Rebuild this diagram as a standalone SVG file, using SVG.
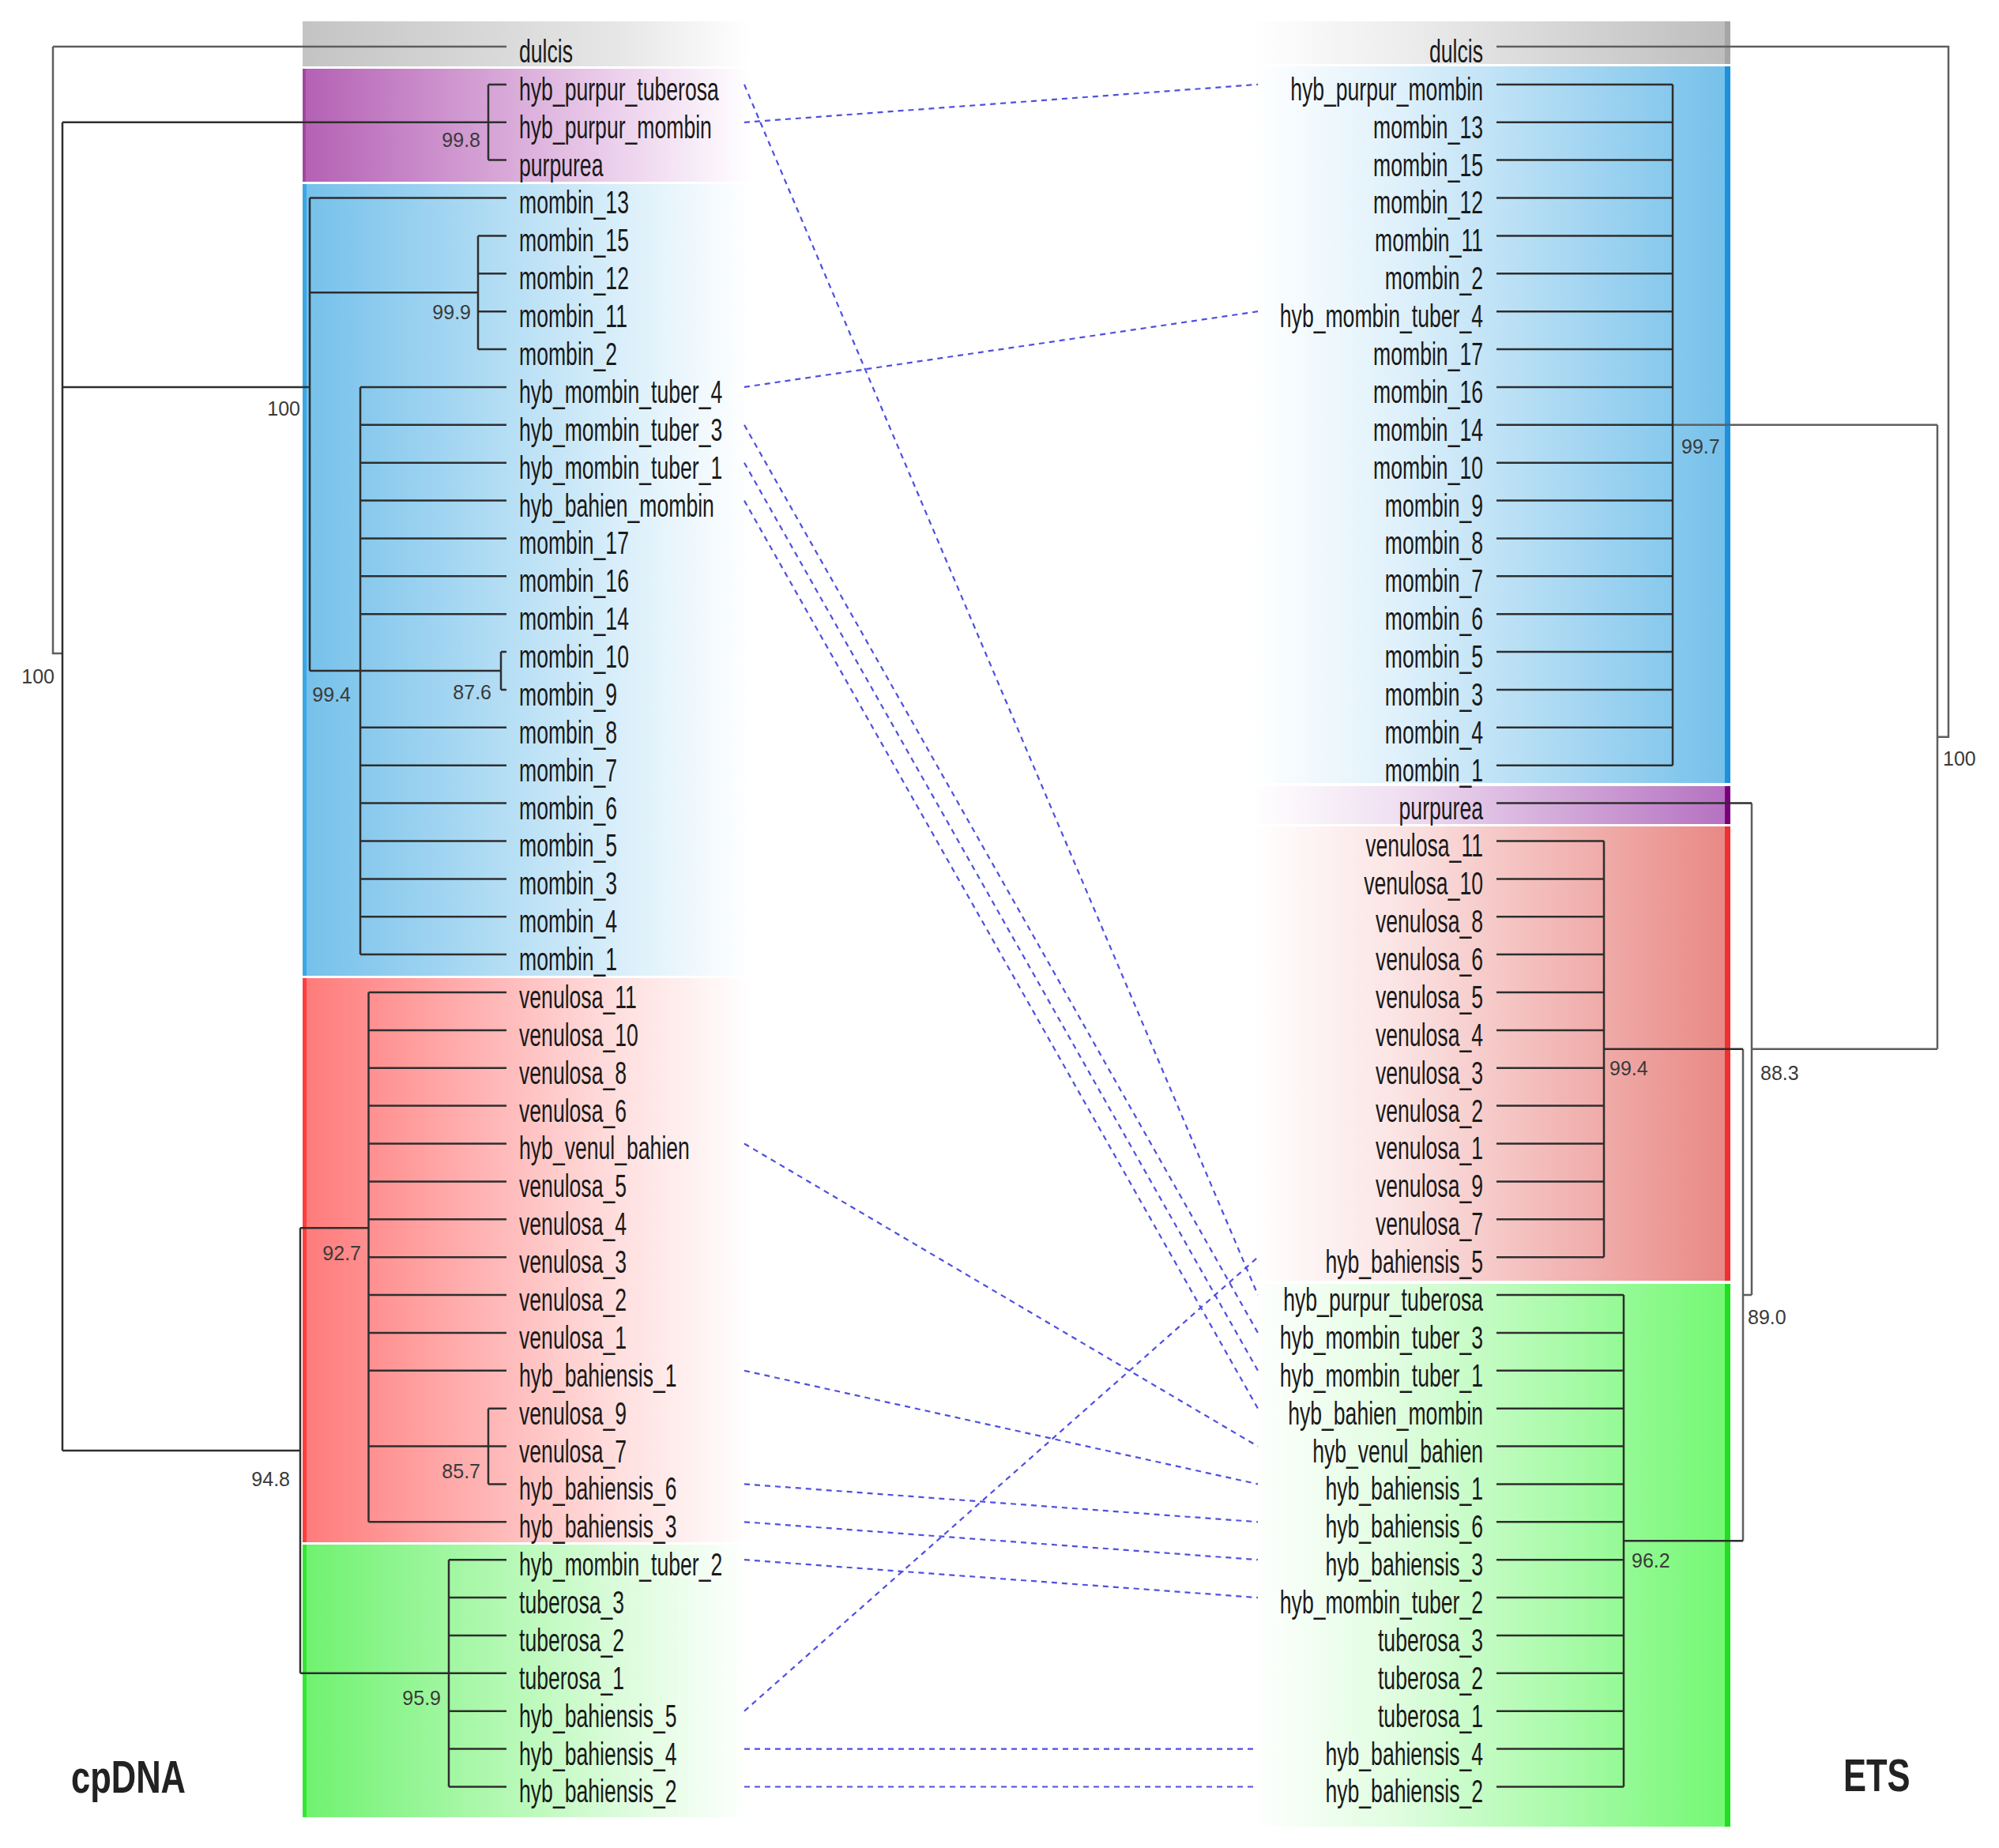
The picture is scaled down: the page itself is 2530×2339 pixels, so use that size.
<svg xmlns="http://www.w3.org/2000/svg" width="2530" height="2339" viewBox="0 0 2530 2339">
<style>
.tx{font-family:"Liberation Sans",Arial,sans-serif;font-size:40px;fill:#1a1a1a}
.rt{text-anchor:end}
.bs{font-family:"Liberation Sans",Arial,sans-serif;font-size:25px;fill:#3a3a3a}
.bse{text-anchor:end}
.ttl{font-family:"Liberation Sans",Arial,sans-serif;font-size:58px;font-weight:bold;fill:#222}
.tree{fill:none;stroke:#2e2e2e;stroke-width:2.5}
.outer{fill:none;stroke:#5e5e5e;stroke-width:2.5}
.dash{fill:none;stroke:#4f4fe2;stroke-width:2.2;stroke-dasharray:7 6}
</style>
<defs>
<linearGradient id="lg-gray" x1="0" x2="1" y1="0" y2="0"><stop offset="0" stop-color="#c4c4c4"/><stop offset="0.7" stop-color="#e6e6e6"/><stop offset="1" stop-color="#ffffff"/></linearGradient>
<linearGradient id="lg-purple" x1="0" x2="1" y1="0" y2="0"><stop offset="0" stop-color="#b460b4"/><stop offset="0.7" stop-color="#ecd0ec"/><stop offset="1" stop-color="#ffffff"/></linearGradient>
<linearGradient id="lg-blue" x1="0" x2="1" y1="0" y2="0"><stop offset="0" stop-color="#74c0ea"/><stop offset="0.7" stop-color="#d8eefa"/><stop offset="1" stop-color="#ffffff"/></linearGradient>
<linearGradient id="lg-red" x1="0" x2="1" y1="0" y2="0"><stop offset="0" stop-color="#ff7a7a"/><stop offset="0.7" stop-color="#ffdede"/><stop offset="1" stop-color="#ffffff"/></linearGradient>
<linearGradient id="lg-green" x1="0" x2="1" y1="0" y2="0"><stop offset="0" stop-color="#6ef26e"/><stop offset="0.7" stop-color="#dafcda"/><stop offset="1" stop-color="#ffffff"/></linearGradient>
<linearGradient id="rg-gray" x1="0" x2="1" y1="0" y2="0"><stop offset="0" stop-color="#ffffff"/><stop offset="0.3" stop-color="#eeeeee"/><stop offset="1" stop-color="#bdbdbd"/></linearGradient>
<linearGradient id="rg-purple" x1="0" x2="1" y1="0" y2="0"><stop offset="0" stop-color="#ffffff"/><stop offset="0.3" stop-color="#f0e0f2"/><stop offset="1" stop-color="#b470c0"/></linearGradient>
<linearGradient id="rg-blue" x1="0" x2="1" y1="0" y2="0"><stop offset="0" stop-color="#ffffff"/><stop offset="0.3" stop-color="#e0f1fb"/><stop offset="1" stop-color="#74c0ea"/></linearGradient>
<linearGradient id="rg-red" x1="0" x2="1" y1="0" y2="0"><stop offset="0" stop-color="#ffffff"/><stop offset="0.3" stop-color="#fbe4e4"/><stop offset="1" stop-color="#e88884"/></linearGradient>
<linearGradient id="rg-green" x1="0" x2="1" y1="0" y2="0"><stop offset="0" stop-color="#ffffff"/><stop offset="0.3" stop-color="#e0fde0"/><stop offset="1" stop-color="#72f872"/></linearGradient>
</defs>
<rect width="2530" height="2339" fill="#ffffff"/>

<g id="bands-cpDNA">
<rect x="383" y="27" width="567" height="57" fill="url(#lg-gray)"/>
<rect x="383" y="87" width="567" height="143" fill="url(#lg-purple)"/>
<rect x="383" y="87" width="4" height="143" fill="#a048a0"/>
<rect x="383" y="233" width="567" height="1002" fill="url(#lg-blue)"/>
<rect x="383" y="233" width="5" height="1002" fill="#3aa6e6"/>
<rect x="383" y="1238" width="567" height="714" fill="url(#lg-red)"/>
<rect x="383" y="1238" width="5" height="714" fill="#ff3d3d"/>
<rect x="383" y="1955" width="567" height="345" fill="url(#lg-green)"/>
<rect x="383" y="1955" width="5" height="345" fill="#33e633"/>
</g>

<g id="bands-ETS">
<rect x="1585" y="27" width="605" height="54" fill="url(#rg-gray)"/>
<rect x="2183" y="27" width="7" height="54" fill="#a6a6a6"/>
<rect x="1585" y="84" width="605" height="907" fill="url(#rg-blue)"/>
<rect x="2183" y="84" width="7" height="907" fill="#1e90dc"/>
<rect x="1585" y="995" width="605" height="48" fill="url(#rg-purple)"/>
<rect x="2183" y="995" width="7" height="48" fill="#7a007a"/>
<rect x="1585" y="1046" width="605" height="575" fill="url(#rg-red)"/>
<rect x="2183" y="1046" width="7" height="575" fill="#f03030"/>
<rect x="1585" y="1625" width="605" height="687" fill="url(#rg-green)"/>
<rect x="2183" y="1625" width="7" height="687" fill="#22dd22"/>
</g>

<g id="tree-cpDNA">
<path class="outer" d="M67 59V826.9H79M67 59H641"/>
<path class="tree" d="M79 154.8V1836.1
M79 154.8H618M618 106.9V202.6M618 106.9H641M618 154.8H641M618 202.6H641
M79 489.9H392M392 250.5V849M392 250.5H641
M392 370.2H605M605 298.4V442M605 298.4H641M605 346.3H641M605 394.2H641M605 442H641
M392 849H456M456 489.9V1208.1
M456 489.9H641M456 537.8H641M456 585.7H641M456 633.6H641M456 681.4H641M456 729.3H641M456 777.2H641
M456 920.8H641M456 968.7H641M456 1016.6H641M456 1064.5H641M456 1112.4H641M456 1160.2H641M456 1208.1H641
M456 849H634M634 825.1V873M634 825.1H641M634 873H641
M79 1836.1H380M380 1554.3V2117.8M380 1554.3H466.5M466.5 1256V1926.3
M466.5 1256H641M466.5 1303.9H641M466.5 1351.8H641M466.5 1399.6H641M466.5 1447.5H641M466.5 1495.4H641
M466.5 1543.3H641M466.5 1591.2H641M466.5 1639H641M466.5 1686.9H641M466.5 1734.8H641M466.5 1926.3H641
M466.5 1830.6H618M618 1782.7V1878.4M618 1782.7H641M618 1830.6H641M618 1878.4H641
M380 2117.8H568M568 1974.2V2261.5
M568 1974.2H641M568 2022.1H641M568 2070H641M568 2117.8H641M568 2165.7H641M568 2213.6H641M568 2261.5H641"/>
</g>

<g id="tree-ETS">
<path class="outer" d="M1894 59H2466V932.8H2452M2452 537.8V1327.8M2117 537.8H2452M2217 1327.8H2452M2217 1016.6V1639M2206 1639H2217M2206 1327.8V1950.3"/>
<path class="tree" d="M2117 106.9V968.7
M1894 106.9H2117M1894 154.8H2117M1894 202.6H2117M1894 250.5H2117M1894 298.4H2117M1894 346.3H2117M1894 394.2H2117
M1894 442H2117M1894 489.9H2117M1894 537.8H2117M1894 585.7H2117M1894 633.6H2117M1894 681.4H2117M1894 729.3H2117
M1894 777.2H2117M1894 825.1H2117M1894 873H2117M1894 920.8H2117M1894 968.7H2117
M1894 1016.6H2217
M2030 1327.8H2206M2030 1064.5V1591.2
M1894 1064.5H2030M1894 1112.4H2030M1894 1160.2H2030M1894 1208.1H2030M1894 1256H2030M1894 1303.9H2030
M1894 1351.8H2030M1894 1399.6H2030M1894 1447.5H2030M1894 1495.4H2030M1894 1543.3H2030M1894 1591.2H2030
M2055 1950.3H2206M2055 1639V2261.5
M1894 1639H2055M1894 1686.9H2055M1894 1734.8H2055M1894 1782.7H2055M1894 1830.6H2055M1894 1878.4H2055M1894 1926.3H2055
M1894 1974.2H2055M1894 2022.1H2055M1894 2070H2055M1894 2117.8H2055M1894 2165.7H2055M1894 2213.6H2055M1894 2261.5H2055"/>
</g>

<g id="connectors">
<line class="dash" x1="942" y1="106.9" x2="1592" y2="1639"/>
<line class="dash" x1="942" y1="154.8" x2="1592" y2="106.9"/>
<line class="dash" x1="942" y1="489.9" x2="1592" y2="394.2"/>
<line class="dash" x1="942" y1="537.8" x2="1592" y2="1686.9"/>
<line class="dash" x1="942" y1="585.7" x2="1592" y2="1734.8"/>
<line class="dash" x1="942" y1="633.6" x2="1592" y2="1782.7"/>
<line class="dash" x1="942" y1="1447.5" x2="1592" y2="1830.6"/>
<line class="dash" x1="942" y1="1734.8" x2="1592" y2="1878.4"/>
<line class="dash" x1="942" y1="1878.4" x2="1592" y2="1926.3"/>
<line class="dash" x1="942" y1="1926.3" x2="1592" y2="1974.2"/>
<line class="dash" x1="942" y1="1974.2" x2="1592" y2="2022.1"/>
<line class="dash" x1="942" y1="2165.7" x2="1592" y2="1591.2"/>
<line class="dash" x1="942" y1="2213.6" x2="1592" y2="2213.6"/>
<line class="dash" x1="942" y1="2261.5" x2="1592" y2="2261.5"/>
</g>

<g id="labels-cpDNA" class="tx" transform="scale(0.665 1)">
<g id="c01"><text x="988" y="79">dulcis</text></g>
<g id="c02"><text x="988" y="126.9">hyb_purpur_tuberosa</text></g>
<g id="c03"><text x="988" y="174.8">hyb_purpur_mombin</text></g>
<g id="c04"><text x="988" y="222.6">purpurea</text></g>
<g id="c05"><text x="988" y="270.5">mombin_13</text></g>
<g id="c06"><text x="988" y="318.4">mombin_15</text></g>
<g id="c07"><text x="988" y="366.3">mombin_12</text></g>
<g id="c08"><text x="988" y="414.2">mombin_11</text></g>
<g id="c09"><text x="988" y="462">mombin_2</text></g>
<g id="c10"><text x="988" y="509.9">hyb_mombin_tuber_4</text></g>
<g id="c11"><text x="988" y="557.8">hyb_mombin_tuber_3</text></g>
<g id="c12"><text x="988" y="605.7">hyb_mombin_tuber_1</text></g>
<g id="c13"><text x="988" y="653.6">hyb_bahien_mombin</text></g>
<g id="c14"><text x="988" y="701.4">mombin_17</text></g>
<g id="c15"><text x="988" y="749.3">mombin_16</text></g>
<g id="c16"><text x="988" y="797.2">mombin_14</text></g>
<g id="c17"><text x="988" y="845.1">mombin_10</text></g>
<g id="c18"><text x="988" y="893">mombin_9</text></g>
<g id="c19"><text x="988" y="940.8">mombin_8</text></g>
<g id="c20"><text x="988" y="988.7">mombin_7</text></g>
<g id="c21"><text x="988" y="1036.6">mombin_6</text></g>
<g id="c22"><text x="988" y="1084.5">mombin_5</text></g>
<g id="c23"><text x="988" y="1132.4">mombin_3</text></g>
<g id="c24"><text x="988" y="1180.2">mombin_4</text></g>
<g id="c25"><text x="988" y="1228.1">mombin_1</text></g>
<g id="c26"><text x="988" y="1276">venulosa_11</text></g>
<g id="c27"><text x="988" y="1323.9">venulosa_10</text></g>
<g id="c28"><text x="988" y="1371.8">venulosa_8</text></g>
<g id="c29"><text x="988" y="1419.6">venulosa_6</text></g>
<g id="c30"><text x="988" y="1467.5">hyb_venul_bahien</text></g>
<g id="c31"><text x="988" y="1515.4">venulosa_5</text></g>
<g id="c32"><text x="988" y="1563.3">venulosa_4</text></g>
<g id="c33"><text x="988" y="1611.2">venulosa_3</text></g>
<g id="c34"><text x="988" y="1659">venulosa_2</text></g>
<g id="c35"><text x="988" y="1706.9">venulosa_1</text></g>
<g id="c36"><text x="988" y="1754.8">hyb_bahiensis_1</text></g>
<g id="c37"><text x="988" y="1802.7">venulosa_9</text></g>
<g id="c38"><text x="988" y="1850.6">venulosa_7</text></g>
<g id="c39"><text x="988" y="1898.4">hyb_bahiensis_6</text></g>
<g id="c40"><text x="988" y="1946.3">hyb_bahiensis_3</text></g>
<g id="c41"><text x="988" y="1994.2">hyb_mombin_tuber_2</text></g>
<g id="c42"><text x="988" y="2042.1">tuberosa_3</text></g>
<g id="c43"><text x="988" y="2090">tuberosa_2</text></g>
<g id="c44"><text x="988" y="2137.8">tuberosa_1</text></g>
<g id="c45"><text x="988" y="2185.7">hyb_bahiensis_5</text></g>
<g id="c46"><text x="988" y="2233.6">hyb_bahiensis_4</text></g>
<g id="c47"><text x="988" y="2281.5">hyb_bahiensis_2</text></g>
</g>

<g id="labels-ETS" class="tx rt" transform="scale(0.665 1)">
<g id="e01"><text x="2822.6" y="79">dulcis</text></g>
<g id="e02"><text x="2822.6" y="126.9">hyb_purpur_mombin</text></g>
<g id="e03"><text x="2822.6" y="174.8">mombin_13</text></g>
<g id="e04"><text x="2822.6" y="222.6">mombin_15</text></g>
<g id="e05"><text x="2822.6" y="270.5">mombin_12</text></g>
<g id="e06"><text x="2822.6" y="318.4">mombin_11</text></g>
<g id="e07"><text x="2822.6" y="366.3">mombin_2</text></g>
<g id="e08"><text x="2822.6" y="414.2">hyb_mombin_tuber_4</text></g>
<g id="e09"><text x="2822.6" y="462">mombin_17</text></g>
<g id="e10"><text x="2822.6" y="509.9">mombin_16</text></g>
<g id="e11"><text x="2822.6" y="557.8">mombin_14</text></g>
<g id="e12"><text x="2822.6" y="605.7">mombin_10</text></g>
<g id="e13"><text x="2822.6" y="653.6">mombin_9</text></g>
<g id="e14"><text x="2822.6" y="701.4">mombin_8</text></g>
<g id="e15"><text x="2822.6" y="749.3">mombin_7</text></g>
<g id="e16"><text x="2822.6" y="797.2">mombin_6</text></g>
<g id="e17"><text x="2822.6" y="845.1">mombin_5</text></g>
<g id="e18"><text x="2822.6" y="893">mombin_3</text></g>
<g id="e19"><text x="2822.6" y="940.8">mombin_4</text></g>
<g id="e20"><text x="2822.6" y="988.7">mombin_1</text></g>
<g id="e21"><text x="2822.6" y="1036.6">purpurea</text></g>
<g id="e22"><text x="2822.6" y="1084.5">venulosa_11</text></g>
<g id="e23"><text x="2822.6" y="1132.4">venulosa_10</text></g>
<g id="e24"><text x="2822.6" y="1180.2">venulosa_8</text></g>
<g id="e25"><text x="2822.6" y="1228.1">venulosa_6</text></g>
<g id="e26"><text x="2822.6" y="1276">venulosa_5</text></g>
<g id="e27"><text x="2822.6" y="1323.9">venulosa_4</text></g>
<g id="e28"><text x="2822.6" y="1371.8">venulosa_3</text></g>
<g id="e29"><text x="2822.6" y="1419.6">venulosa_2</text></g>
<g id="e30"><text x="2822.6" y="1467.5">venulosa_1</text></g>
<g id="e31"><text x="2822.6" y="1515.4">venulosa_9</text></g>
<g id="e32"><text x="2822.6" y="1563.3">venulosa_7</text></g>
<g id="e33"><text x="2822.6" y="1611.2">hyb_bahiensis_5</text></g>
<g id="e34"><text x="2822.6" y="1659">hyb_purpur_tuberosa</text></g>
<g id="e35"><text x="2822.6" y="1706.9">hyb_mombin_tuber_3</text></g>
<g id="e36"><text x="2822.6" y="1754.8">hyb_mombin_tuber_1</text></g>
<g id="e37"><text x="2822.6" y="1802.7">hyb_bahien_mombin</text></g>
<g id="e38"><text x="2822.6" y="1850.6">hyb_venul_bahien</text></g>
<g id="e39"><text x="2822.6" y="1898.4">hyb_bahiensis_1</text></g>
<g id="e40"><text x="2822.6" y="1946.3">hyb_bahiensis_6</text></g>
<g id="e41"><text x="2822.6" y="1994.2">hyb_bahiensis_3</text></g>
<g id="e42"><text x="2822.6" y="2042.1">hyb_mombin_tuber_2</text></g>
<g id="e43"><text x="2822.6" y="2090">tuberosa_3</text></g>
<g id="e44"><text x="2822.6" y="2137.8">tuberosa_2</text></g>
<g id="e45"><text x="2822.6" y="2185.7">tuberosa_1</text></g>
<g id="e46"><text x="2822.6" y="2233.6">hyb_bahiensis_4</text></g>
<g id="e47"><text x="2822.6" y="2281.5">hyb_bahiensis_2</text></g>
</g>

<g id="support-cpDNA" class="bs bse">
<text x="69" y="865">100</text>
<text x="608" y="186">99.8</text>
<text x="380" y="526">100</text>
<text x="596" y="404">99.9</text>
<text x="444" y="888">99.4</text>
<text x="622" y="885">87.6</text>
<text x="457" y="1595">92.7</text>
<text x="608" y="1871">85.7</text>
<text x="367" y="1881">94.8</text>
<text x="558" y="2158">95.9</text>
</g>
<g id="support-ETS" class="bs">
<text x="2128" y="574">99.7</text>
<text x="2459" y="969">100</text>
<text x="2037" y="1361">99.4</text>
<text x="2065" y="1984">96.2</text>
<text x="2228" y="1367">88.3</text>
<text x="2212" y="1676">89.0</text>
</g>

<g id="titles" class="ttl">
<text transform="translate(90 2269) scale(0.75 1)">cpDNA</text>
<text transform="translate(2333 2267) scale(0.75 1)">ETS</text>
</g>
</svg>
